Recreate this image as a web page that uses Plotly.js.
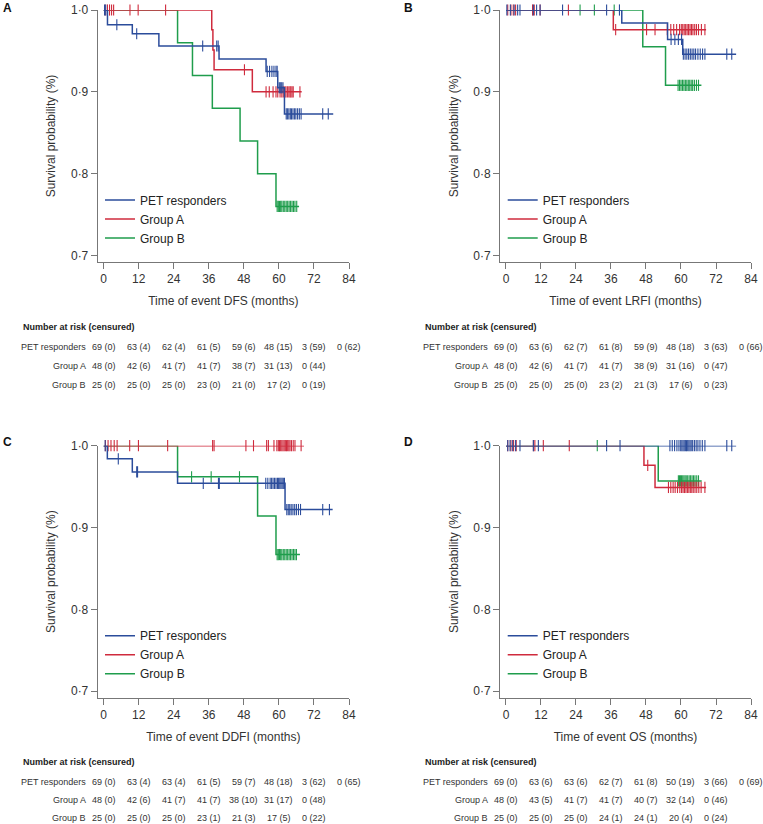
<!DOCTYPE html>
<html>
<head>
<meta charset="utf-8">
<script src="https://cdn.plot.ly/plotly-3.0.1.min.js"></script>
<style>
  html, body { margin: 0; padding: 0; background: #fff; }
  #chart { width: 763px; height: 824px; }
</style>
</head>
<body>
<div id="chart"></div>
<script>
// group names and risk-table months
const groupNames = ['PET responders', 'Group A', 'Group B']
const riskMonths = [0, 12, 24, 36, 48, 60, 72, 84]
const yTickVals = [0.7, 0.8, 0.9, 1.0]
const yTickText = ['0·7', '0·8', '0·9', '1·0']

// A: DFS  (event times, survival after each event, censor times, last follow-up)
const dfsPetT = [1.3, 9.8, 18.9, 39.5, 55.6, 59.6, 61.9]
const dfsPetS = [0.982, 0.971, 0.956, 0.940, 0.925, 0.905, 0.873]
const dfsPetC = [0.3, 0.7, 4.5, 11.3, 33.9, 38.7, 39.2, 56.0, 56.8, 57.6, 58.3, 59.0, 59.4, 60.1, 60.4, 60.7, 61.0, 61.4, 62.5, 62.9, 63.4, 63.9, 64.3, 64.8, 65.3, 65.8, 66.4, 67.0, 67.6, 75.0, 76.9]
const dfsPetEnd = 78.6
const dfsAT = [37.0, 37.4, 37.8, 50.9]
const dfsAS = [0.976, 0.951, 0.927, 0.900]
const dfsAC = [0.5, 1.3, 2.0, 2.7, 3.4, 9.0, 11.8, 21.2, 48.2, 55.6, 56.7, 58.0, 59.0, 59.6, 60.4, 61.0, 61.5, 62.0, 62.4, 62.9, 63.4, 63.8, 64.1, 64.5, 64.9, 67.2]
const dfsAEnd = 67.8
const dfsBT = [25.3, 30.4, 37.2, 46.7, 52.7, 59.0]
const dfsBS = [0.96, 0.92, 0.88, 0.84, 0.80, 0.76]
const dfsBC = [59.4, 59.8, 60.2, 60.6, 61.0, 61.5, 62.0, 62.5, 63.0, 63.5, 64.0, 64.5, 65.0, 65.5, 66.1]
const dfsBEnd = 66.9
const dfsRiskPet = ['69 (0)', '63 (4)', '62 (4)', '61 (5)', '59 (6)', '48 (15)', '3 (59)', '0 (62)']
const dfsRiskA = ['48 (0)', '42 (6)', '41 (7)', '41 (7)', '38 (7)', '31 (13)', '0 (44)']
const dfsRiskB = ['25 (0)', '25 (0)', '25 (0)', '23 (0)', '21 (0)', '17 (2)', '0 (19)']

// B: LRFI
const lrfiPetT = [39.7, 55.4, 60.6]
const lrfiPetS = [0.984, 0.964, 0.946]
const lrfiPetC = [0.3, 1.5, 2.8, 4.0, 4.8, 9.4, 10.5, 11.7, 19.4, 34.5, 38.9, 56.6, 57.9, 59.1, 60.2, 60.8, 61.4, 62.0, 62.6, 63.2, 63.8, 64.4, 65.0, 65.8, 66.6, 67.4, 68.2, 75.7, 77.4]
const lrfiPetEnd = 78.9
const lrfiAT = [36.8]
const lrfiAS = [0.976]
const lrfiAC = [0.6, 1.7, 2.5, 3.3, 9.1, 9.7, 11.7, 21.4, 37.6, 48.2, 51.1, 55.3, 56.5, 57.5, 58.5, 59.5, 60.1, 60.6, 61.1, 61.6, 62.1, 62.6, 63.1, 63.6, 64.1, 64.7, 65.3, 66.0, 67.0, 68.2]
const lrfiAEnd = 68.6
const lrfiBT = [46.9, 54.7]
const lrfiBS = [0.955, 0.908]
const lrfiBC = [25.4, 30.3, 37.1, 59.0, 59.5, 60.0, 60.5, 61.0, 61.5, 62.0, 62.5, 63.0, 63.5, 64.0, 64.6, 65.3, 66.0]
const lrfiBEnd = 67.0
const lrfiRiskPet = ['69 (0)', '63 (6)', '62 (7)', '61 (8)', '59 (9)', '48 (18)', '3 (63)', '0 (66)']
const lrfiRiskA = ['48 (0)', '42 (6)', '41 (7)', '41 (7)', '38 (9)', '31 (16)', '0 (47)']
const lrfiRiskB = ['25 (0)', '25 (0)', '25 (0)', '23 (2)', '21 (3)', '17 (6)', '0 (23)']

// C: DDFI
const ddfiPetT = [1.25, 9.8, 25.3, 62.1]
const ddfiPetS = [0.984, 0.968, 0.954, 0.922]
const ddfiPetC = [0.5, 5.0, 11.3, 11.6, 34.1, 39.3, 39.6, 55.5, 56.2, 57.0, 57.5, 58.0, 58.5, 59.0, 59.5, 59.9, 60.3, 60.7, 61.1, 61.5, 61.9, 62.7, 63.2, 63.7, 64.2, 64.8, 65.4, 66.0, 66.7, 67.4, 75.0, 77.3]
const ddfiPetEnd = 78.4
const ddfiAT = []
const ddfiAS = []
const ddfiAC = [0.6, 1.5, 2.5, 3.6, 4.6, 8.9, 11.9, 21.9, 37.3, 37.8, 48.7, 51.3, 55.8, 56.4, 58.3, 59.3, 59.8, 60.2, 60.6, 61.0, 61.4, 61.8, 62.2, 62.6, 63.0, 63.4, 63.8, 64.3, 64.9, 65.5, 67.6]
const ddfiAEnd = 68.6
const ddfiBT = [25.3, 52.7, 59.0]
const ddfiBS = [0.962, 0.914, 0.867]
const ddfiBC = [30.1, 36.8, 46.5, 59.4, 59.8, 60.2, 60.6, 61.0, 61.5, 62.0, 62.5, 63.0, 63.5, 64.0, 64.5, 65.0, 65.5, 66.0]
const ddfiBEnd = 67.2
const ddfiRiskPet = ['69 (0)', '63 (4)', '63 (4)', '61 (5)', '59 (7)', '48 (18)', '3 (62)', '0 (65)']
const ddfiRiskA = ['48 (0)', '42 (6)', '41 (7)', '41 (7)', '38 (10)', '31 (17)', '0 (48)']
const ddfiRiskB = ['25 (0)', '25 (0)', '25 (0)', '23 (1)', '21 (3)', '17 (5)', '0 (22)']

// D: OS
const osPetT = []
const osPetS = []
const osPetC = [0.6, 1.4, 2.3, 3.3, 4.8, 9.4, 11.1, 34.5, 39.1, 56.2, 57.0, 57.8, 58.6, 59.3, 59.9, 60.3, 60.7, 61.1, 61.5, 61.9, 62.3, 62.7, 63.1, 63.5, 64.0, 64.6, 65.2, 65.8, 66.5, 67.3, 68.2, 75.7, 77.4]
const osPetEnd = 78.9
const osAT = [47.3, 51.1]
const osAS = [0.976, 0.949]
const osAC = [0.6, 1.7, 2.6, 3.5, 9.4, 9.9, 12.8, 21.7, 48.6, 55.7, 56.5, 57.3, 58.0, 58.8, 59.6, 60.2, 60.7, 61.2, 61.7, 62.2, 62.7, 63.2, 63.7, 64.2, 64.8, 65.4, 66.1, 66.9, 68.2]
const osAEnd = 68.6
const osBT = [52.2]
const osBS = [0.957]
const osBC = [31.3, 59.1, 59.5, 59.8, 60.2, 60.6, 61.0, 61.4, 61.8, 62.3, 62.8, 63.3, 63.8, 64.3, 64.8, 65.4, 66.0]
const osBEnd = 67.1
const osRiskPet = ['69 (0)', '63 (6)', '63 (6)', '62 (7)', '61 (8)', '50 (19)', '3 (66)', '0 (69)']
const osRiskA = ['48 (0)', '43 (5)', '41 (7)', '41 (7)', '40 (7)', '32 (14)', '0 (46)']
const osRiskB = ['25 (0)', '25 (0)', '25 (0)', '24 (1)', '24 (1)', '20 (4)', '0 (24)']

const colors = ['#2b4c9b', '#cf2b3d', '#1f9d4c']
const FONT = 'Liberation Sans, Arial, sans-serif'

const panels = [
  { letter: 'A', n: '', title: 'Time of event DFS (months)',
    groups: [[dfsPetT, dfsPetS, dfsPetC, dfsPetEnd], [dfsAT, dfsAS, dfsAC, dfsAEnd], [dfsBT, dfsBS, dfsBC, dfsBEnd]],
    risk: [dfsRiskPet, dfsRiskA, dfsRiskB] },
  { letter: 'B', n: '2', title: 'Time of event LRFI (months)',
    groups: [[lrfiPetT, lrfiPetS, lrfiPetC, lrfiPetEnd], [lrfiAT, lrfiAS, lrfiAC, lrfiAEnd], [lrfiBT, lrfiBS, lrfiBC, lrfiBEnd]],
    risk: [lrfiRiskPet, lrfiRiskA, lrfiRiskB] },
  { letter: 'C', n: '3', title: 'Time of event DDFI (months)',
    groups: [[ddfiPetT, ddfiPetS, ddfiPetC, ddfiPetEnd], [ddfiAT, ddfiAS, ddfiAC, ddfiAEnd], [ddfiBT, ddfiBS, ddfiBC, ddfiBEnd]],
    risk: [ddfiRiskPet, ddfiRiskA, ddfiRiskB] },
  { letter: 'D', n: '4', title: 'Time of event OS (months)',
    groups: [[osPetT, osPetS, osPetC, osPetEnd], [osAT, osAS, osAC, osAEnd], [osBT, osBS, osBC, osBEnd]],
    risk: [osRiskPet, osRiskA, osRiskB] }
]

// pixel layout of the figure (763 x 824)
const W = 763, H = 824
const colX = [[97.7, 349], [500, 751]]       // y-axis line .. 84 months
const rowY = [[10, 262], [445.7, 697.7]]     // 1.0 .. x-axis line
const legLeft = [100, 502.7]
const legTop = [185.5, 621.2]
const letterPos = [[7, 8], [408, 8], [7, 442], [408, 442]]
const tableRows = [[-84.7, -104, -123], [-84.2, -102.6, -120.6]]

function stepLine (times, surv, end) {
  const x = [0], y = [1]
  times.forEach((t, i) => { x.push(t); y.push(surv[i]) })
  x.push(end)
  y.push(surv.length ? surv[surv.length - 1] : 1)
  return { x, y }
}

function levelAt (times, surv, c) {
  let s = 1
  times.forEach((t, i) => { if (t <= c) s = surv[i] })
  return s
}

const data = []
const annotations = []
const layout = {
  width: W,
  height: H,
  margin: { l: 0, r: 0, t: 0, b: 0 },
  paper_bgcolor: '#fff',
  plot_bgcolor: '#fff',
  font: { family: FONT, color: '#333' },
  showlegend: true,
  annotations: annotations
}

panels.forEach((p, k) => {
  const col = k % 2, row = Math.floor(k / 2)
  const xa = 'x' + p.n, ya = 'y' + p.n
  const legName = 'legend' + p.n

  // draw Group B first, PET responders on top
  for (let g = 2; g >= 0; g--) {
    const [t, s, c, end] = p.groups[g]
    const st = stepLine(t, s, end)
    data.push({
      x: st.x, y: st.y, xaxis: xa, yaxis: ya,
      type: 'scatter', mode: 'lines', name: groupNames[g],
      line: { color: colors[g], width: 1.5, shape: 'hv' },
      legend: legName, legendrank: g + 1, cliponaxis: false, hoverinfo: 'skip'
    })
    data.push({
      x: c, y: c.map(v => levelAt(t, s, v)), xaxis: xa, yaxis: ya,
      type: 'scatter', mode: 'markers', showlegend: false,
      marker: { symbol: 'line-ns', size: 8, line: { color: colors[g], width: 1.1 } },
      cliponaxis: false, hoverinfo: 'skip'
    })
  }

  layout['xaxis' + p.n] = {
    domain: [colX[col][0] / W, colX[col][1] / W],
    anchor: ya, range: [-2.05, 84], tickvals: riskMonths,
    showline: true, linecolor: '#777', linewidth: 1,
    ticks: 'outside', ticklen: 6, tickcolor: '#777',
    showgrid: false, zeroline: false,
    tickfont: { family: FONT, size: 12, color: '#333' },
    title: { text: p.title, font: { family: FONT, size: 12, color: '#333' }, standoff: 11 }
  }
  layout['yaxis' + p.n] = {
    domain: [1 - rowY[row][1] / H, 1 - rowY[row][0] / H],
    anchor: xa, range: [0.6921, 1.0], tickvals: yTickVals, ticktext: yTickText,
    showline: true, linecolor: '#777', linewidth: 1,
    ticks: 'outside', ticklen: 6, tickcolor: '#777',
    showgrid: false, zeroline: false,
    tickfont: { family: FONT, size: 12, color: '#333' },
    title: { text: 'Survival probability (%)', font: { family: FONT, size: 12, color: '#333' }, standoff: 12 }
  }
  layout[legName] = {
    x: legLeft[col] / W, y: 1 - legTop[row] / H, xanchor: 'left', yanchor: 'top',
    bgcolor: 'rgba(0,0,0,0)', borderwidth: 0, tracegroupgap: 0,
    font: { family: FONT, size: 12, color: '#222' }
  }

  // panel letter
  annotations.push({
    text: '<b>' + p.letter + '</b>', xref: 'paper', yref: 'paper',
    x: letterPos[k][0] / W, y: 1 - letterPos[k][1] / H, borderpad: 0,
    xanchor: 'center', yanchor: 'middle', showarrow: false,
    font: { family: FONT, size: 12, color: '#111' }
  })

  // number at risk table
  const ydom = ya + ' domain'
  annotations.push({
    text: '<b>Number at risk (censured)</b>', xref: xa, yref: ydom, x: 0, y: 0,
    xshift: -82, yshift: -64.7, xanchor: 'left', yanchor: 'middle', showarrow: false,
    borderpad: 0, font: { family: FONT, size: 9, color: '#222' }
  })
  const rowShift = tableRows[row]
  p.risk.forEach((vals, g) => {
    annotations.push({
      text: groupNames[g], xref: xa, yref: ydom, x: 0, y: 0,
      xshift: -16.5, yshift: rowShift[g], xanchor: 'right', yanchor: 'middle', showarrow: false,
      borderpad: 0, font: { family: FONT, size: 9, color: '#333' }
    })
    vals.forEach((v, i) => {
      annotations.push({
        text: v, xref: xa, yref: ydom, x: riskMonths[i], y: 0,
        yshift: rowShift[g], xanchor: 'center', yanchor: 'middle', showarrow: false,
        borderpad: 0, font: { family: FONT, size: 9, color: '#333' }
      })
    })
  })
})

Plotly.newPlot(document.getElementById('chart'), data, layout, { staticPlot: true })
</script>
</body>
</html>
